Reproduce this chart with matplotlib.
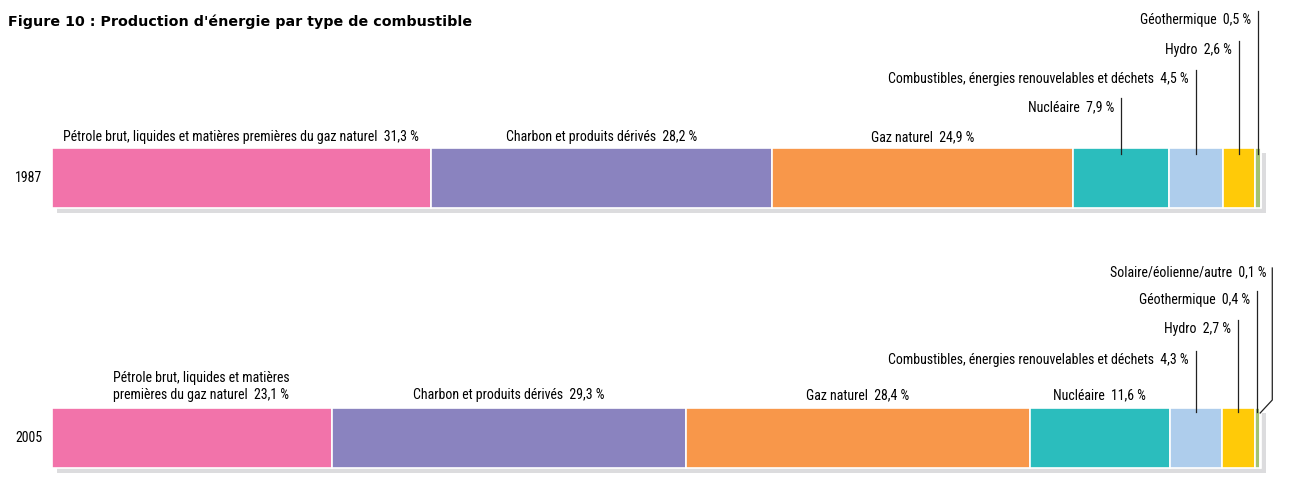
import matplotlib
matplotlib.use("Agg")
import matplotlib.pyplot as plt
import matplotlib.patheffects as pe
from matplotlib import font_manager
import numpy as np

years = ["1987", "2005"]
categories = [
    "Pétrole brut, liquides et matières premières du gaz naturel",
    "Charbon et produits dérivés",
    "Gaz naturel",
    "Nucléaire",
    "Combustibles, énergies renouvelables et déchets",
    "Hydro",
    "Géothermique",
    "Solaire/éolienne/autre",
]
colors = ["#f273aa", "#8a83bf", "#f8974a", "#2bbdbd", "#aecdec", "#ffca08", "#a4c271", "#e9336b"]
shares_1987 = [31.3, 28.2, 24.9, 7.9, 4.5, 2.6, 0.5, 0.0]
shares_2005 = [23.1, 29.3, 28.4, 11.6, 4.3, 2.7, 0.4, 0.1]

installed = {f.name for f in font_manager.fontManager.ttflist}


def pick(options):
    for fam in options:
        if fam in installed:
            return fam
    return "DejaVu Sans"


fam = pick(["Roboto Condensed", "Barlow Condensed", "IBM Plex Sans Condensed"])
plt.rcParams["font.family"] = [fam, "DejaVu Sans"]

W, H = 1291, 492
fig = plt.figure(figsize=(W / 100, H / 100), dpi=100)
ax = fig.add_axes([0, 0, 1, 1])
# x in percent (bar starts at pixel 52, 100 % = 1210 px), y in pixels from the top
px = 12.1
x0 = 52
ax.set_xlim(-x0 / px, (W - x0) / px)
ax.set_ylim(H, 0)
ax.axis("off")


def pct(xpix):
    return (xpix - x0) / px


def fmt(v):
    return f"{v:.1f}".replace(".", ",") + " %"


shadow = [pe.SimplePatchShadow(offset=(3.6, -3.6), shadow_rgbFace="#dcdcde", alpha=1), pe.Normal()]
fs = 10
lc = "#222222"


def draw_row(y, shares):
    left = np.concatenate([[0], np.cumsum(shares)[:-1]])
    bars = ax.barh(y, shares, left=left, height=60, color=colors, edgecolor="white", linewidth=1.2)
    for b in bars:
        b.set_path_effects(shadow)
    return left


# 1987
y87 = 178
left = draw_row(y87, shares_1987)
mid = left + np.array(shares_1987) / 2
for i in range(3):
    ax.text(mid[i], 141, f"{categories[i]}  {fmt(shares_1987[i])}", ha="center", va="baseline", fontsize=fs)
tops = [107, 79, 50, 20]
for i, t in zip(range(3, 7), tops):
    ax.plot([mid[i], mid[i]], [t - 9, 154], color=lc, lw=0.9)
    ax.annotate(f"{categories[i]}  {fmt(shares_1987[i])}", (mid[i], t), xytext=(-5, 0),
                textcoords="offset points", ha="right", va="center", fontsize=fs)
ax.text(pct(42), y87, years[0], ha="right", va="center", fontsize=fs)

# 2005
y05 = 438
left = draw_row(y05, shares_2005)
mid = left + np.array(shares_2005) / 2
ax.text(pct(113), 399, f"Pétrole brut, liquides et matières\npremières du gaz naturel  {fmt(shares_2005[0])}",
        ha="left", va="baseline", fontsize=fs, linespacing=1.3)
for i in range(1, 4):
    ax.text(mid[i], 399, f"{categories[i]}  {fmt(shares_2005[i])}", ha="center", va="baseline", fontsize=fs)
tops = [360, 329, 300]
for i, t in zip(range(4, 7), tops):
    ax.plot([mid[i], mid[i]], [t - 9, 412], color=lc, lw=0.9)
    ax.annotate(f"{categories[i]}  {fmt(shares_2005[i])}", (mid[i], t), xytext=(-5, 0),
                textcoords="offset points", ha="right", va="center", fontsize=fs)
# elbow leader for the last, very thin segment
xe = mid[7] + 1.0
ax.plot([xe, xe, mid[7]], [268, 400, 413], color=lc, lw=0.9)
ax.annotate(f"{categories[7]}  {fmt(shares_2005[7])}", (xe, 272), xytext=(-4, 0),
            textcoords="offset points", ha="right", va="center", fontsize=fs)
ax.text(pct(42), y05, years[1], ha="right", va="center", fontsize=fs)

fig.text(8 / W, 1 - 22 / H, "Figure 10 : Production d'énergie par type de combustible",
         ha="left", va="center", fontsize=10.3, fontweight="bold", family="DejaVu Sans")

fig.savefig("out.png", dpi=100)
